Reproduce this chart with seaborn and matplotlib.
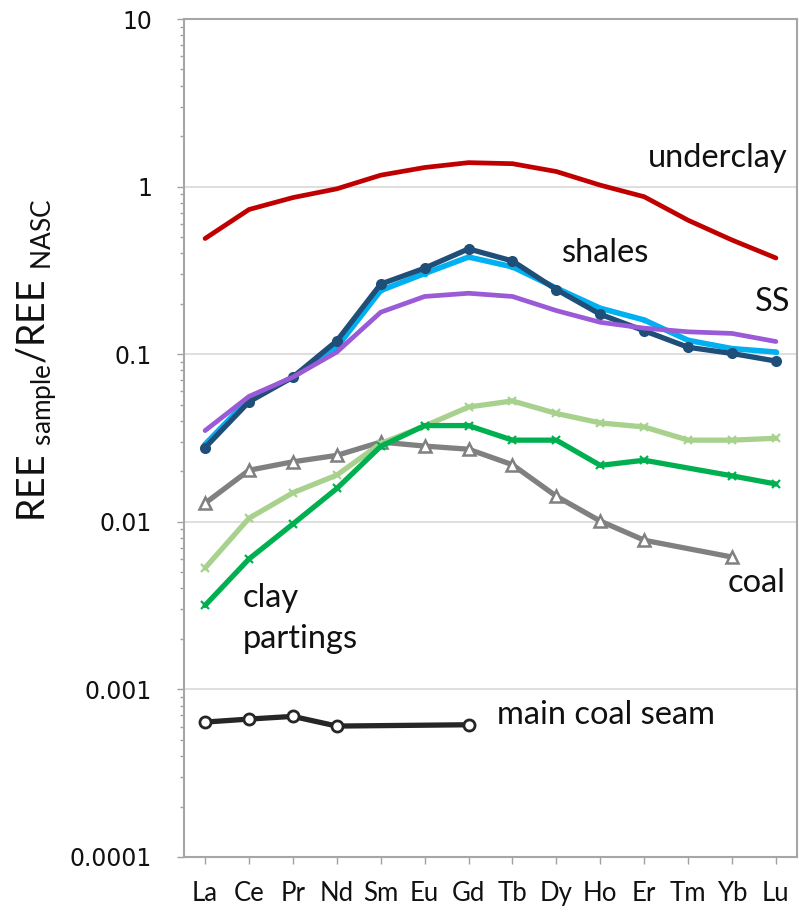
import numpy as np
import pandas as pd
import matplotlib
matplotlib.use("Agg")
import matplotlib.pyplot as plt
import seaborn as sns

# Rare earth elements along the x axis
ELEMENTS = ["La", "Ce", "Pr", "Nd", "Sm", "Eu", "Gd", "Tb", "Dy", "Ho", "Er", "Tm", "Yb", "Lu"]

# NASC-normalised REE concentrations (NaN = not determined)
underclay = [0.49, 0.73, 0.86, 0.97, 1.17, 1.30, 1.39, 1.37, 1.23, 1.02, 0.87, 0.63, 0.48, 0.375]
shales_a = [0.029, 0.054, 0.073, 0.110, 0.240, 0.303, 0.380, 0.332, 0.248, 0.188, 0.160, 0.121, 0.108, 0.103]
shales_b = [0.0277, 0.052, 0.073, 0.120, 0.262, 0.326, 0.425, 0.360, 0.243, 0.173, 0.138, 0.110, 0.101, 0.091]
sandstone = [0.035, 0.056, 0.073, 0.103, 0.178, 0.221, 0.231, 0.221, 0.182, 0.155, 0.143, 0.136, 0.133, 0.119]
partings_a = [0.0053, 0.0105, 0.0149, 0.019, 0.0293, 0.0373, 0.0484, 0.0526, 0.0443, 0.0389, 0.0368, 0.0307, 0.0307, 0.0315]
partings_b = [0.00317, 0.0060, 0.0097, 0.0158, 0.0282, 0.0375, 0.0375, 0.0307, 0.0307, 0.0217, 0.0233, np.nan, 0.0188, 0.0168]
coal = [0.0129, 0.0203, 0.0228, 0.0249, 0.0299, 0.0283, 0.0271, 0.0219, 0.0142, 0.0101, 0.00776, np.nan, 0.00616, np.nan]
main_seam = [0.000638, 0.000665, 0.00069, 0.000604, np.nan, np.nan, 0.000615, np.nan, np.nan, np.nan, np.nan, np.nan, np.nan, np.nan]

sns.set_theme(style="white")
plt.rcParams["font.family"] = ["Lato", "DejaVu Sans"]

fig = plt.figure(figsize=(7.99, 9.14), dpi=100)
ax = fig.add_axes([0.2303, 0.0624, 0.7672, 0.9168])

pos = np.arange(len(ELEMENTS))


def series(values):
    df = pd.DataFrame({"x": pos, "y": values})
    return df.dropna()


# coal (grey, open triangles)
sns.lineplot(data=series(coal), x="x", y="y", ax=ax, color="#808080", lw=3.8,
             marker="^", markersize=9, markerfacecolor="white",
             markeredgecolor="#808080", markeredgewidth=1.8, zorder=3)
# clay partings
sns.lineplot(data=series(partings_a), x="x", y="y", ax=ax, color="#a9d18e", lw=3.8,
             marker="x", markersize=6, markeredgewidth=1.6,
             markeredgecolor="#a9d18e", zorder=3)
sns.lineplot(data=series(partings_b), x="x", y="y", ax=ax, color="#00b050", lw=3.8,
             marker="x", markersize=6, markeredgewidth=1.6,
             markeredgecolor="#00b050", zorder=4)
# shales
sns.lineplot(data=series(shales_a), x="x", y="y", ax=ax, color="#00b0f0", lw=4.0,
             marker="o", markersize=4, markeredgewidth=0,
             markerfacecolor="#00b0f0", zorder=4)
sns.lineplot(data=series(shales_b), x="x", y="y", ax=ax, color="#1f4e79", lw=3.8,
             marker="o", markersize=8, markeredgewidth=0,
             markerfacecolor="#1f4e79", zorder=5)
# sandstone
sns.lineplot(data=series(sandstone), x="x", y="y", ax=ax, color="#9b5ad6", lw=3.4, zorder=6)
# underclay
sns.lineplot(data=series(underclay), x="x", y="y", ax=ax, color="#c00000", lw=3.4, zorder=6)
# main coal seam (black, open circles)
sns.lineplot(data=series(main_seam), x="x", y="y", ax=ax, color="#262626", lw=3.8,
             marker="o", markersize=8, markerfacecolor="white",
             markeredgecolor="#262626", markeredgewidth=2.0, zorder=6)

ax.set_yscale("log")
ax.set_ylim(1e-4, 10)
ax.set_xlim(-0.48, 13.48)

ax.set_xticks(pos)
ax.set_xticklabels(ELEMENTS, fontsize=18.5, color="#111111")
ax.tick_params(axis="x", which="major", direction="out", length=5, width=1,
               color="#a0a0a0", bottom=True, pad=12)

majors = [1e-4, 1e-3, 1e-2, 1e-1, 1, 10]
ax.set_yticks(majors)
ax.set_yticklabels(["0.0001", "0.001", "0.01", "0.1", "1", "10"],
                   fontsize=17, color="#111111", family=["DejaVu Sans"])
ax.yaxis.set_minor_locator(matplotlib.ticker.LogLocator(base=10, subs=np.arange(2, 10)))
ax.yaxis.set_minor_formatter(matplotlib.ticker.NullFormatter())
ax.tick_params(axis="y", which="major", direction="out", length=5, width=1,
               color="#a0a0a0", left=True, pad=18)
ax.tick_params(axis="y", which="minor", direction="out", length=3, width=1,
               color="#a0a0a0", left=True)

ax.grid(axis="y", which="major", color="#d9d9d9", lw=1.2, zorder=0)
ax.grid(axis="x", visible=False)
ax.set_axisbelow(True)
for sp in ax.spines.values():
    sp.set_color("#a6a6a6")
    sp.set_linewidth(1.5)

ax.set_xlabel("")
ax.set_ylabel(r"REE $\mathregular{_{sample}}$/REE $\mathregular{_{NASC}}$",
              fontsize=27, color="#111111")
ax.yaxis.set_label_coords(-0.204, 0.593)

lbl = dict(fontsize=23.5, color="#111111", ha="left", va="center", zorder=7)
ax.text(10.09, 1.48, "underclay", **lbl)
ax.text(8.13, 0.40, "shales", **lbl)
ax.text(12.52, 0.204, "SS", **lbl)
ax.text(0.865, 0.00349, "clay", **lbl)
ax.text(0.865, 0.00201, "partings", **lbl)
ax.text(11.89, 0.0043, "coal", **lbl)
ax.text(6.65, 0.000705, "main coal seam", **lbl)

fig.savefig("out.png", dpi=100)
